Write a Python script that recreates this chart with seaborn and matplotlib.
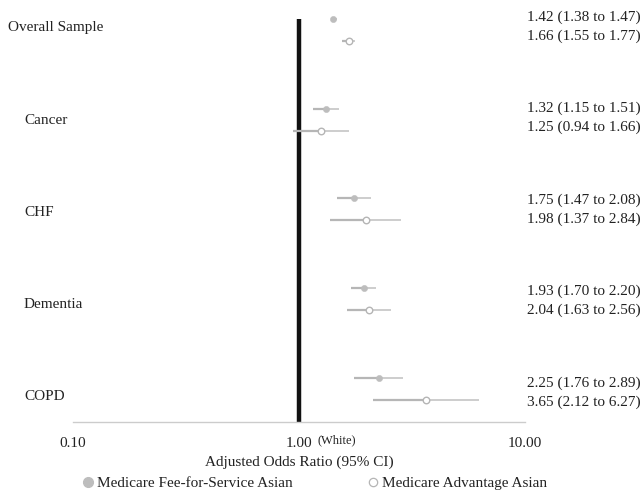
import matplotlib
matplotlib.use("Agg")
import matplotlib.pyplot as plt
from matplotlib.lines import Line2D
import seaborn as sns
import pandas as pd
import numpy as np

categories = ["Overall Sample", "Cancer", "CHF", "Dementia", "COPD"]
ffs_or = [1.42, 1.32, 1.75, 1.93, 2.25]
ffs_lo = [1.38, 1.15, 1.47, 1.70, 1.76]
ffs_hi = [1.47, 1.51, 2.08, 2.20, 2.89]
ma_or = [1.66, 1.25, 1.98, 2.04, 3.65]
ma_lo = [1.55, 0.94, 1.37, 1.63, 2.12]
ma_hi = [1.77, 1.66, 2.84, 2.56, 6.27]
series_names = ["Medicare Fee-for-Service Asian", "Medicare Advantage Asian"]
tick_vals = [0.1, 1.0, 10.0]
tick_labels = ["0.10", "1.00", "10.00"]

sns.set_theme(style="white")
plt.rcParams["font.family"] = ["Liberation Serif", "DejaVu Serif"]

W, H = 641, 493
fig = plt.figure(figsize=(W / 100, H / 100), dpi=100)
ax = fig.add_axes([73 / W, 71 / H, (525 - 73) / W, (H - 71) / H])

n = len(categories)
idx = np.arange(n)
off = 0.245
df = pd.DataFrame({
    "cat": categories,
    "y_ffs": idx, "y_ma": idx + off,
    "ffs": ffs_or, "ffs_lo": ffs_lo, "ffs_hi": ffs_hi,
    "ma": ma_or, "ma_lo": ma_lo, "ma_hi": ma_hi,
})

ax.set_xscale("log")
ax.set_xlim(0.1, 10)
ytop = -0.208
ybot = 4.49
ax.set_ylim(ybot, ytop)

# reference line
ax.plot([1, 1], [0.0, ybot], color="#111111", lw=3.2, solid_capstyle="butt", zorder=1)

# CI lines
for key, yk in [("ffs", "y_ffs"), ("ma", "y_ma")]:
    ax.hlines(df[yk], df[key + "_lo"], df[key], color="#b6b6b6", lw=1.6, zorder=2)
    ax.hlines(df[yk], df[key], df[key + "_hi"], color="#c9c9c9", lw=1.3, zorder=2)

sns.scatterplot(data=df, x="ffs", y="y_ffs", ax=ax, color="#bdbdbd",
                edgecolor="#bdbdbd", s=20, zorder=3, legend=False)
sns.scatterplot(data=df, x="ma", y="y_ma", ax=ax, color="white",
                edgecolor="#b5b5b5", linewidth=1.0, s=22, zorder=3, legend=False)

ax.set_ylim(ybot, ytop)
ax.set_yticks([])
ax.set_xticks(tick_vals)
ax.set_xticklabels(tick_labels, fontsize=11)
ax.minorticks_off()
ax.tick_params(axis="x", length=0, pad=11, colors="#222222")
for s in ["top", "left", "right"]:
    ax.spines[s].set_visible(False)
ax.spines["bottom"].set_color("#cccccc")
ax.spines["bottom"].set_linewidth(1.0)
ax.set_xlabel("Adjusted Odds Ratio (95% CI)", fontsize=11, labelpad=4, color="#222222")
ax.set_ylabel("")

# "(White)" annotation
fig.text(317 / W, 1 - 440 / H, "(White)", fontsize=9, va="center", ha="left", color="#222222")

# category labels and value texts
for i, c in enumerate(categories):
    ly = 28 + 92 * i
    lx = 8 if i == 0 else 24
    fig.text(lx / W, 1 - ly / H, c, fontsize=11, va="center", ha="left", color="#222222")
    ty = 26.5 + 91.5 * i
    fig.text(527 / W, 1 - (ty - 9.5) / H,
             f"{ffs_or[i]:.2f} ({ffs_lo[i]:.2f} to {ffs_hi[i]:.2f})",
             fontsize=11, va="center", ha="left", color="#222222")
    fig.text(527 / W, 1 - (ty + 9.5) / H,
             f"{ma_or[i]:.2f} ({ma_lo[i]:.2f} to {ma_hi[i]:.2f})",
             fontsize=11, va="center", ha="left", color="#222222")

handles = [
    Line2D([], [], marker="o", linestyle="none", markersize=7,
           markerfacecolor="#bdbdbd", markeredgecolor="#bdbdbd"),
    Line2D([], [], marker="o", linestyle="none", markersize=6,
           markerfacecolor="white", markeredgecolor="#b5b5b5", markeredgewidth=0.9),
]
fig.legend(handles, series_names, loc="center", bbox_to_anchor=(314 / W, 1 - 483 / H),
           ncol=2, frameon=False, fontsize=11, handletextpad=0.15,
           columnspacing=4.8, handlelength=0.9, borderpad=0, labelcolor="#222222")

fig.savefig("out.png", dpi=100)
